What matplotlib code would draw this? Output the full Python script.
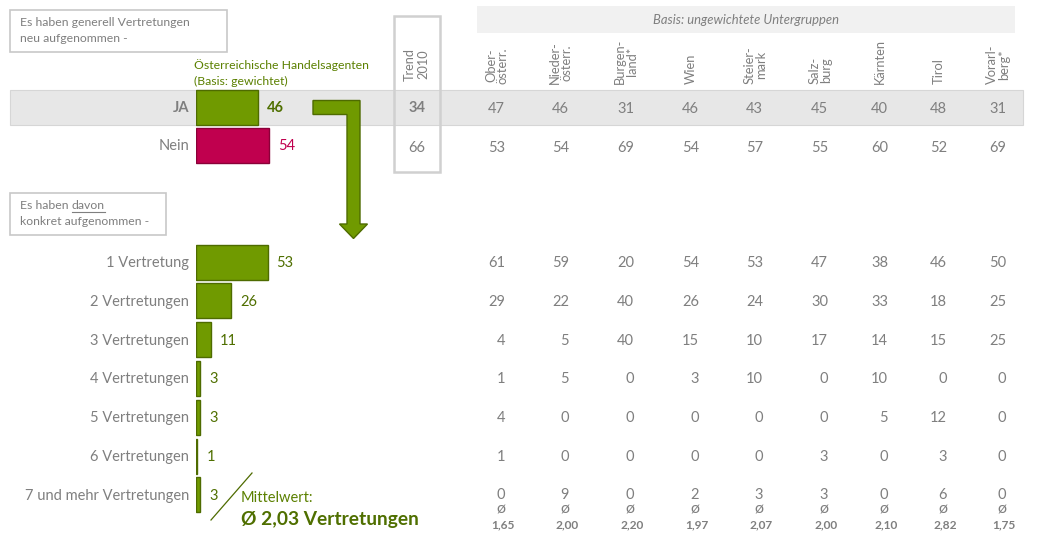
import matplotlib.pyplot as plt
from matplotlib.patches import Rectangle, Polygon
import numpy as np

plt.rcParams['font.family'] = ['Lato', 'DejaVu Sans']

# ---- data ----
regions = ["Ober-\nösterr.", "Nieder-\nösterr.", "Burgen-\nland*", "Wien", "Steier-\nmark",
           "Salz-\nburg", "Kärnten", "Tirol", "Vorarl-\nberg*"]

general_labels = ["JA", "Nein"]
general_total = [46, 54]
trend_2010 = [34, 66]
general_regions = [
    [47, 46, 31, 46, 43, 45, 40, 48, 31],
    [53, 54, 69, 54, 57, 55, 60, 52, 69],
]

count_labels = ["1 Vertretung", "2 Vertretungen", "3 Vertretungen", "4 Vertretungen",
                "5 Vertretungen", "6 Vertretungen", "7 und mehr Vertretungen"]
count_total = [53, 26, 11, 3, 3, 1, 3]
count_regions = [
    [61, 59, 20, 54, 53, 47, 38, 46, 50],
    [29, 22, 40, 26, 24, 30, 33, 18, 25],
    [4, 5, 40, 15, 10, 17, 14, 15, 25],
    [1, 5, 0, 3, 10, 0, 10, 0, 0],
    [4, 0, 0, 0, 0, 0, 5, 12, 0],
    [1, 0, 0, 0, 0, 3, 0, 3, 0],
    [0, 9, 0, 2, 3, 3, 0, 6, 0],
]
region_means = ["1,65", "2,00", "2,20", "1,97", "2,07", "2,00", "2,10", "2,82", "1,75"]
mean_total = "2,03"

# ---- styling ----
GREEN = '#709a00'
GREEN_EDGE = '#4e6b00'
GREEN_TEXT = '#5b8000'
GREEN_DARK = '#4f6f00'
RED = '#c0004e'
RED_EDGE = '#8a0038'
GRAY = '#7f7f7f'

W, H = 1040, 534
fig = plt.figure(figsize=(W / 100, H / 100), dpi=100)
ax = fig.add_axes([0, 0, 1, 1])
ax.set_xlim(0, W)
ax.set_ylim(H, 0)
ax.axis('off')

# bar axes: 100 % = 135 px, starting at x=196
BAR_X0, BAR_PX = 196, 135
axb = fig.add_axes([BAR_X0 / W, 0, BAR_PX / W, 1])
axb.set_xlim(0, 100)
axb.set_ylim(H, 0)
axb.axis('off')
axb.patch.set_alpha(0)

gen_y = [107, 145.5]
cnt_y = [262 + 38.8 * i for i in range(len(count_labels))]
col_right = [505, 569, 634, 699, 763, 828, 888, 947, 1006]

# gray band for JA row
ax.add_patch(Rectangle((10, 89.5), 1013, 35.5, facecolor='#e7e7e7', edgecolor='#d6d6d6', lw=0.8, zorder=0))

# header boxes
ax.add_patch(Rectangle((10, 9.5), 216.5, 42, facecolor='white', edgecolor='#c8c8c8', lw=1.2))
ax.text(20, 23, "Es haben generell Vertretungen", fontsize=8.8, color=GRAY, va='center')
ax.text(20, 39, "neu aufgenommen -", fontsize=8.8, color=GRAY, va='center')

ax.add_patch(Rectangle((10, 192.5), 155.5, 42, facecolor='white', edgecolor='#c8c8c8', lw=1.2))
ax.text(20, 205.5, "Es haben ", fontsize=8.8, color=GRAY, va='center')
t = ax.text(20, 205.5, "Es haben ", fontsize=8.8, color='none', va='center')
fig.canvas.draw()
bb = t.get_window_extent()
x_dav = ax.transData.inverted().transform((bb.x1, bb.y0))[0]
dav = ax.text(x_dav, 205.5, "davon", fontsize=8.8, color=GRAY, va='center')
fig.canvas.draw()
db = dav.get_window_extent()
(ux0, uy), (ux1, _) = ax.transData.inverted().transform([(db.x0, db.y0), (db.x1, db.y0)])
ax.plot([ux0, ux1], [212, 212], color=GRAY, lw=0.8)
ax.text(20, 221.5, "konkret aufgenommen -", fontsize=8.8, color=GRAY, va='center')

ax.text(194, 65.5, "Österreichische Handelsagenten", fontsize=8.8, color=GREEN_TEXT, va='center')
ax.text(194, 81, "(Basis: gewichtet)", fontsize=8.8, color=GREEN_TEXT, va='center')

# trend box
ax.add_patch(Rectangle((394, 16), 46, 156, facecolor='none', edgecolor='#d0d0d0', lw=1.8, zorder=3))
ax.text(417, 81, "Trend\n2010", rotation=90, fontsize=9.2, color=GRAY, ha='center', va='bottom',
        linespacing=1.15)
ax.text(417, gen_y[0] + 1, str(trend_2010[0]), fontsize=10.5, color=GRAY, ha='center', va='center',
        fontweight='bold')
ax.text(417, gen_y[1] + 3, str(trend_2010[1]), fontsize=10.5, color=GRAY, ha='center', va='center')

# basis header
ax.add_patch(Rectangle((477, 6), 538, 27, facecolor='#f1f1f1', edgecolor='none', zorder=0))
ax.text(746, 19.5, "Basis: ungewichtete Untergruppen", fontsize=9.4, style='italic', color=GRAY,
        ha='center', va='center')

for x, name in zip(col_right, regions):
    ax.text(x - 8, 84, name, rotation=90, fontsize=9.3, color=GRAY, ha='center', va='bottom',
            linespacing=0.95)

# arrow
arrow = [(313, 100.5), (360, 100.5), (360, 224), (367.5, 224), (353.5, 238.5),
         (339.5, 224), (347, 224), (347, 114.5), (313, 114.5)]
ax.add_patch(Polygon(arrow, closed=True, facecolor=GREEN, edgecolor=GREEN_EDGE, lw=1.0, zorder=2))

# general bars
axb.barh(gen_y, general_total, height=35, color=[GREEN, RED], edgecolor=[GREEN_EDGE, RED_EDGE], lw=1.0)
for i, (lab, v, y) in enumerate(zip(general_labels, general_total, gen_y)):
    bold = i == 0
    ax.text(189, y + 1, lab, fontsize=10.5, color=GRAY, ha='right', va='center',
            fontweight='bold' if bold else 'normal')
    axb.annotate(str(v), (v, y + 1), xytext=(6.5, 0), textcoords='offset points', va='center',
                 fontsize=10.5, color=GREEN_DARK if bold else RED,
                 fontweight='bold' if bold else 'normal')
    for x, rv in zip(col_right, general_regions[i]):
        ax.text(x, y + 2, str(rv), fontsize=10.5, color=GRAY, ha='right', va='center')

# count bars
axb.barh(cnt_y, count_total, height=35, color=GREEN, edgecolor=GREEN_EDGE, lw=1.0)
for i, (lab, v, y) in enumerate(zip(count_labels, count_total, cnt_y)):
    ax.text(189, y + 1, lab, fontsize=10.5, color=GRAY, ha='right', va='center')
    axb.annotate(str(v), (v, y + 1), xytext=(6.5, 0), textcoords='offset points', va='center',
                 fontsize=10.5, color=GREEN_DARK)
    last = i == len(count_labels) - 1
    for x, rv in zip(col_right, count_regions[i]):
        ax.text(x, y if last else y + 1, str(rv), fontsize=10.5, color=GRAY, ha='right', va='center')

# means
for x, m in zip(col_right, region_means):
    ax.text(x, 509, "ø", fontsize=11.5, color=GRAY, ha='right', va='center')
    ax.text(x - 2, 524.5, m, fontsize=8.6, color=GRAY, ha='center', va='center', fontweight='bold')

ax.plot([211, 252], [520, 473], color=GREEN_EDGE, lw=0.9)
ax.text(241, 497.5, "Mittelwert:", fontsize=10.5, color=GREEN_TEXT, va='center')
ax.text(241, 520, "Ø " + mean_total + " Vertretungen", fontsize=13.8, color=GREEN_DARK, va='center',
        fontweight='bold')

fig.savefig('out.png', dpi=100)
